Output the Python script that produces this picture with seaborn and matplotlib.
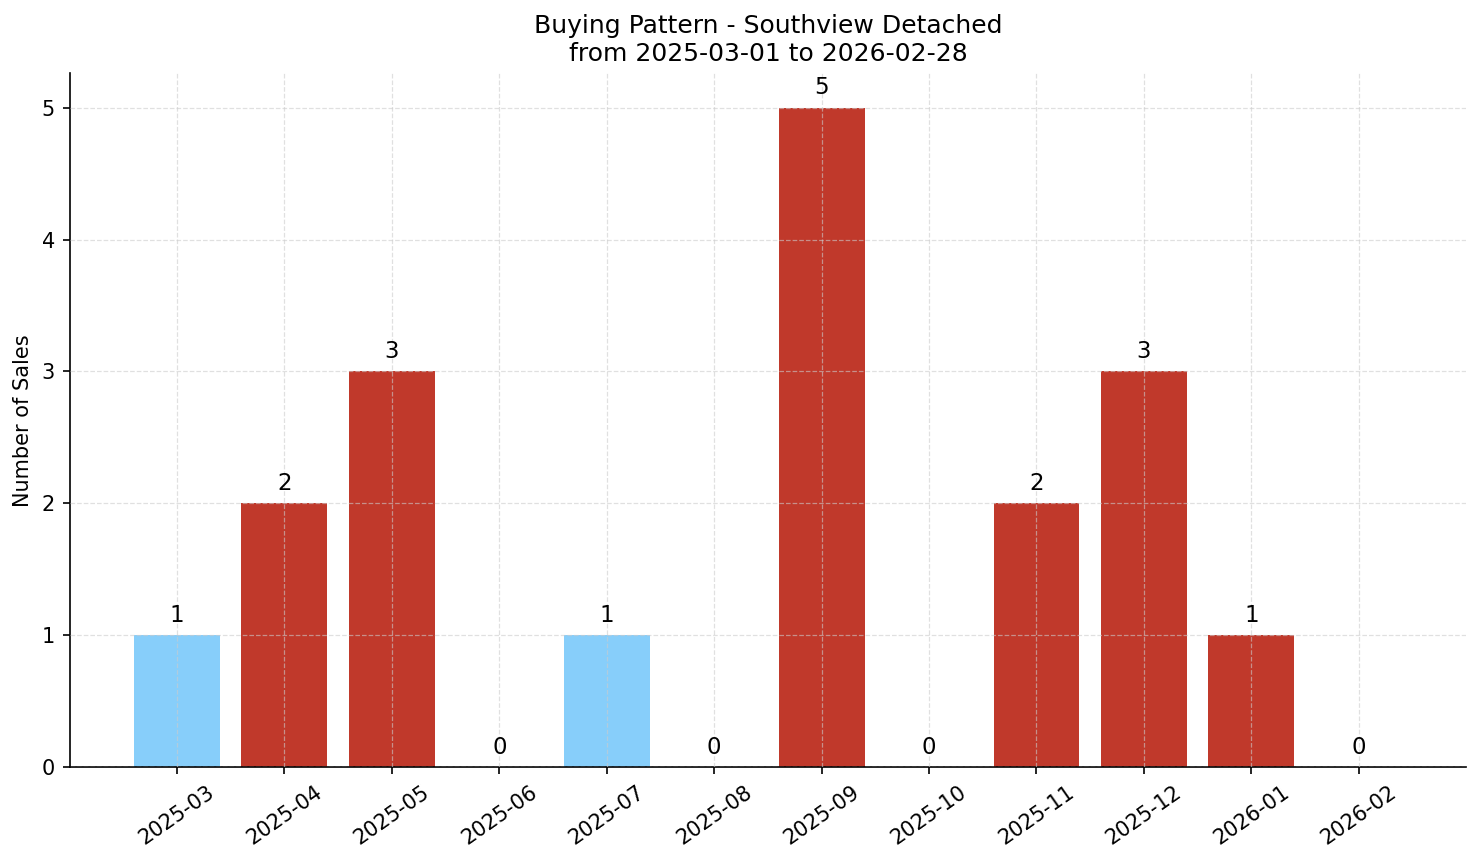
import matplotlib
matplotlib.use("Agg")
import matplotlib.pyplot as plt
import seaborn as sns
import pandas as pd

months = ["2025-03", "2025-04", "2025-05", "2025-06", "2025-07", "2025-08",
          "2025-09", "2025-10", "2025-11", "2025-12", "2026-01", "2026-02"]
sales = [1, 2, 3, 0, 1, 0, 5, 0, 2, 3, 1, 0]
groups = ["low", "high", "high", "high", "low", "high",
          "high", "high", "high", "high", "high", "high"]
palette = {"low": "#87CEFA", "high": "#C0392B"}

df = pd.DataFrame({"month": months, "sales": sales, "group": groups})

plt.rcParams['font.family'] = ['DejaVu Sans']

fig = plt.figure(figsize=(14.81 / 1.5, 8.63 / 1.5), dpi=150)
ax = fig.add_axes([0.047, 0.111, 0.943, 0.804])

sns.barplot(data=df, x="month", y="sales", hue="group", palette=palette,
            dodge=False, width=0.8, legend=False, ax=ax, saturation=1,
            linewidth=0)

for cont in ax.containers:
    ax.bar_label(cont, padding=4, fontsize=11)

ax.set_xlim(-1, 12)
ax.set_ylim(0, 5.26)
ax.grid(True, linestyle="--", color="#cccccc", alpha=0.6, linewidth=0.6)
ax.set_axisbelow(False)
for s in ["top", "right"]:
    ax.spines[s].set_visible(False)
ax.set_xlabel("")
ax.set_ylabel("Number of Sales", fontsize=10)
ax.set_title("Buying Pattern - Southview Detached\nfrom 2025-03-01 to 2026-02-28", fontsize=12)
ax.tick_params(axis="x", labelsize=10, rotation=35)
ax.tick_params(axis="y", labelsize=10)
for lbl in ax.get_xticklabels():
    lbl.set_ha("center")

fig.savefig("out.png", dpi=150)
